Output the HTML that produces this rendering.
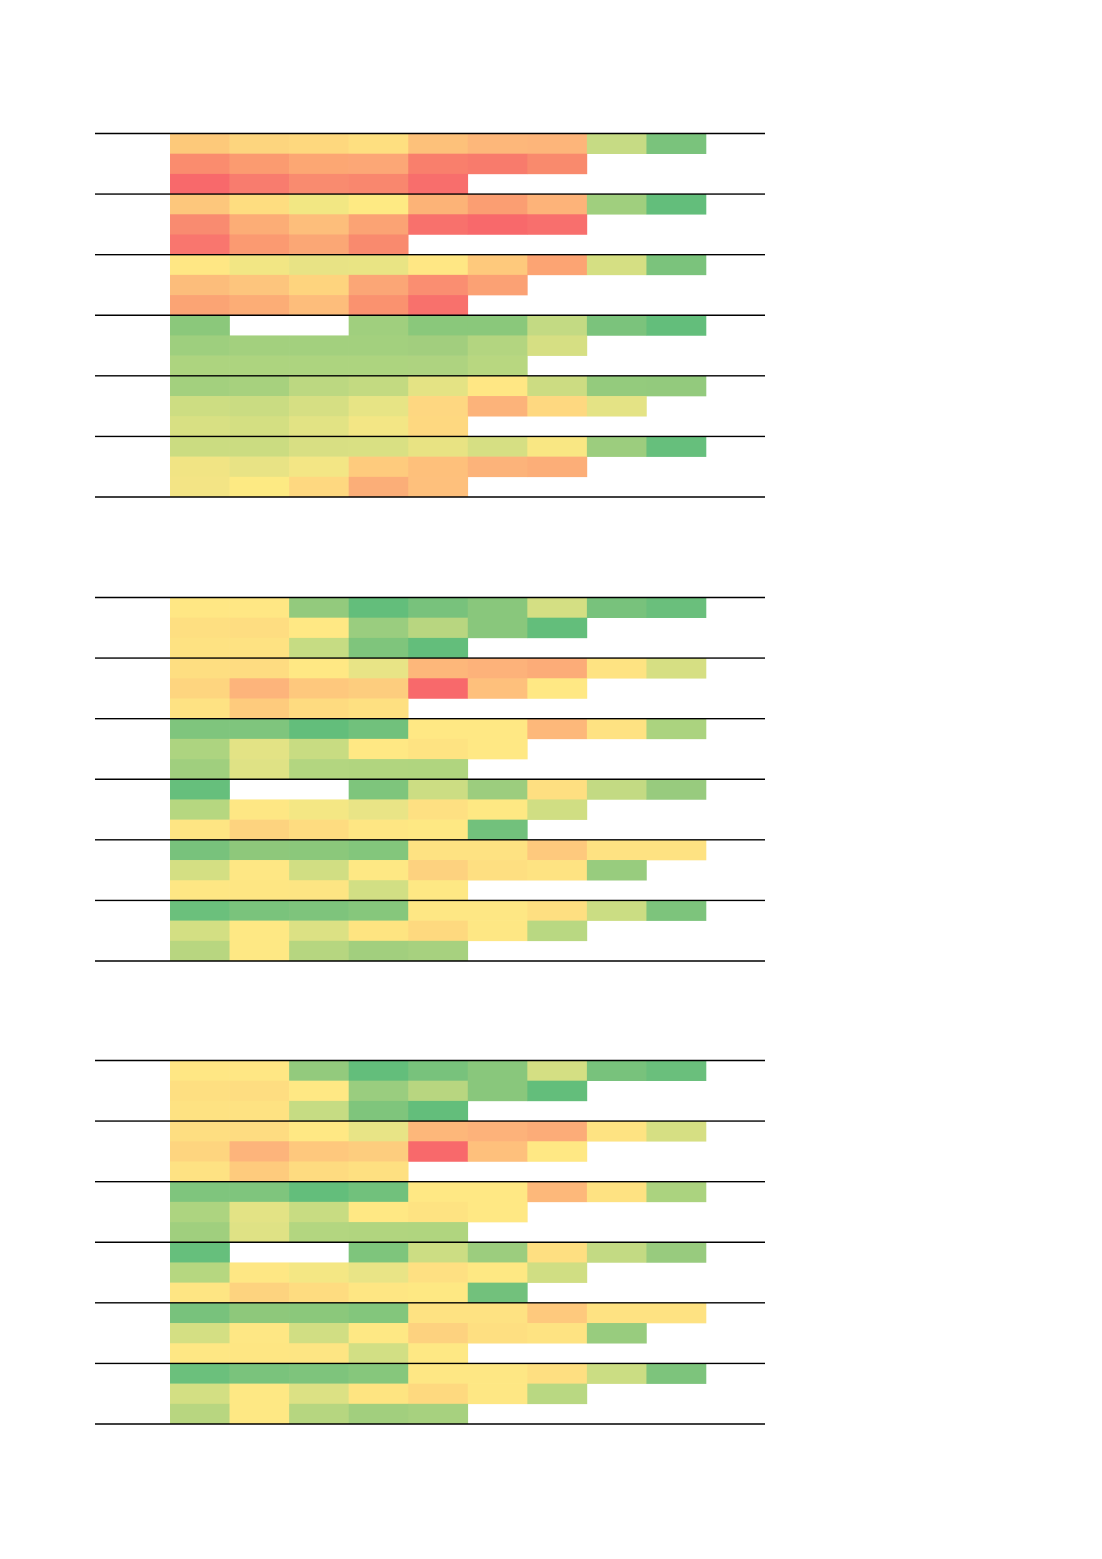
<!DOCTYPE html>
<html><head><meta charset="utf-8"><style>body{margin:0;background:#fff}svg{display:block}</style></head>
<body>
<svg id="s" width="1102" height="1559" xmlns="http://www.w3.org/2000/svg"></svg>
<script>
const P1=[
["fdc97a","fdd57e","fed87e","fedf80","fdc17a","fdb77a","fdb57a","c6db84","7ac37c"],
["fa8c6e","fb9b70","fca773","fca776","f97f6c","f87b6c","f98a6d"],
["f8696b","f87c6e","f98b6f","f9876e","f86e6c"],
["fdc77c","fedd80","f2e783","feea83","fcb377","fb9e72","fdb379","a0cf7e","63be7b"],
["f98b70","fcad76","fdbe7b","fba374","f8716c","f8696b","f86f6d"],
["f9766e","fb9a71","fba775","f98a6e"],
["ffe784","f2e684","e8e385","e9e484","ffe784","fec97c","fca473","d5df83","7bc37c"],
["fcbd7b","fdc57d","fed47e","fba676","fa8e71","fba174"],
["fba474","fcad76","fdbd7b","fa926f","f8716c"],
["8bc87b","","","a0cf7e","8ac87b","8ac87b","c3da83","7bc37c","63be7b"],
["9ecf7e","a3d07e","a3d07e","a3d07e","a2ce7e","b3d580","d6df83"],
["add47f","add47f","add47f","add47f","aed380","b8d780"],
["a3d07e","a7d17e","bcd881","c3da81","e4e384","ffe784","ccdc82","94cb7d","93ca7d"],
["cddd82","cadc82","d6df83","e7e485","fed781","fcb37a","fed880","e4e385"],
["d8e083","d4df82","e2e384","f3e685","fed880"],
["cbdc81","cbdc81","d8df83","d9e083","e8e383","d6df83","f9e783","9ccd7e","66bf7c"],
["f1e484","e8e385","f3e685","fecb7d","fec07b","fcb37a","fcae78"],
["f3e485","fdea83","fed880","fbae78","fec07c"]];
const P2=[
["ffe784","ffe784","93ca7d","63be7b","78c27c","89c77c","d4df83","78c27c","6abf7c"],
["fedf81","fedd81","ffe884","9acd7f","b8d680","89c77c","63be7b"],
["fee282","fee282","c6dc83","7fc57c","63be7b"],
["fede81","fedc81","ffe884","e8e486","fdb77a","fdb27a","fcac78","fee382","d6df83"],
["fed57f","fdb47b","fec87d","fdcd7e","f8696b","fec07c","ffe884"],
["fee283","fecb7d","fedb80","fee081"],
["7fc57d","7fc57d","63be7b","71c17c","ffe884","ffe884","fdb87a","fee282","abd37f"],
["add480","e3e385","c8dc82","ffe884","fee382","ffe884"],
["a0cf7e","dfe285","b3d680","b1d57f","b0d57f"],
["66bf7c","","","7ec57c","ccdd83","9ccd7e","fedf81","c3da83","98cb7e"],
["b6d780","fee784","f4e784","e9e486","fee082","fee883","d0de83"],
["fee583","fdd37f","fedc80","fee683","fee883","72c17c"],
["78c27c","8ec87b","8bc87b","83c67c","fee282","fee282","fec97d","fee282","fee282"],
["d4df83","fee784","d1de83","fee884","fdd27f","fedf81","fee382","98cc7e"],
["fee784","fee683","fde583","d2df84","fee884"],
["6bc07c","7ac37c","7ec47c","86c77c","fee784","fee784","fedf81","cbdd83","7dc47c"],
["d3df83","fee884","dce184","fee481","fed97f","fee784","b9d882"],
["b8d680","fee884","b6d680","a2cf7e","a7d17f"]];
let h='';
function panel(top,D){
 const rh=(497-133.5)/18, cw=(706-170)/9;
 D.forEach((r,i)=>r.forEach((c,j)=>{ if(c) h+=`<rect x="${(170+j*cw).toFixed(2)}" y="${(top+i*rh).toFixed(2)}" width="${(cw+0.3).toFixed(2)}" height="${(rh+0.3).toFixed(2)}" fill="#${c}"/>`;}));
 for(let g=0;g<=6;g++){const y=top+g*rh*3;h+=`<line x1="95" x2="765" y1="${y.toFixed(2)}" y2="${y.toFixed(2)}" stroke="#000" stroke-width="1.4"/>`;}
}
panel(133.5,P1);panel(597.5,P2);panel(1060.5,P2);
document.getElementById('s').innerHTML=h;
</script>
</body></html>
